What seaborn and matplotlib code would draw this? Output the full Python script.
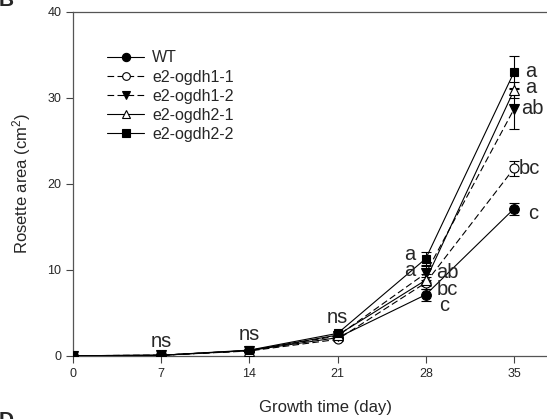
import matplotlib
matplotlib.use("Agg")
import matplotlib.pyplot as plt
import seaborn as sns
import pandas as pd
import numpy as np

days = [0, 7, 14, 21, 28, 35]
genotypes = ["WT", "e2-ogdh1-1", "e2-ogdh1-2", "e2-ogdh2-1", "e2-ogdh2-2"]
wt = [0.0, 0.05, 0.6, 2.1, 7.1, 17.1]
ogdh1_1 = [0.0, 0.05, 0.55, 1.9, 8.5, 21.8]
ogdh1_2 = [0.0, 0.05, 0.6, 2.3, 9.6, 28.7]
ogdh2_1 = [0.0, 0.05, 0.6, 2.4, 8.8, 30.9]
ogdh2_2 = [0.0, 0.05, 0.65, 2.6, 11.3, 33.0]
wt_err = [0.0, 0.02, 0.1, 0.2, 0.7, 0.7]
ogdh1_1_err = [0.0, 0.02, 0.1, 0.2, 0.7, 0.9]
ogdh1_2_err = [0.0, 0.02, 0.1, 0.2, 0.8, 2.3]
ogdh2_1_err = [0.0, 0.02, 0.1, 0.2, 0.7, 0.9]
ogdh2_2_err = [0.0, 0.02, 0.1, 0.2, 0.8, 1.9]

sig_days = [7, 14, 21]
sig_labels = ["ns", "ns", "ns"]
letters28 = ["a", "a", "ab", "bc", "c"]
letters35 = ["a", "a", "ab", "bc", "c"]

values = [wt, ogdh1_1, ogdh1_2, ogdh2_1, ogdh2_2]
errors = [wt_err, ogdh1_1_err, ogdh1_2_err, ogdh2_1_err, ogdh2_2_err]

rows = []
for g, v, e in zip(genotypes, values, errors):
    for d, y, s in zip(days, v, e):
        rows.append({"day": d, "area": y, "err": s, "genotype": g})
df = pd.DataFrame(rows)

sns.set_theme(style="ticks")
plt.rcParams["font.family"] = ["Liberation Sans", "DejaVu Sans"]
plt.rcParams["mathtext.default"] = "regular"

W, H = 547, 419
fig = plt.figure(figsize=(W / 100, H / 100), dpi=100)
ax = fig.add_axes([73 / W, 63.3 / H, 504 / W, 343.7 / H])

markers = {"WT": "o", "e2-ogdh1-1": "o", "e2-ogdh1-2": "v", "e2-ogdh2-1": "^", "e2-ogdh2-2": "s"}
msize = {"WT": 7, "e2-ogdh1-1": 6.5, "e2-ogdh1-2": 7, "e2-ogdh2-1": 6.5, "e2-ogdh2-2": 6.3}
mfc = {"WT": "black", "e2-ogdh1-1": "white", "e2-ogdh1-2": "black", "e2-ogdh2-1": "white", "e2-ogdh2-2": "black"}
ls = {"WT": "-", "e2-ogdh1-1": (0, (6, 3)), "e2-ogdh1-2": (0, (6, 3)), "e2-ogdh2-1": "-", "e2-ogdh2-2": "-"}

for g in genotypes:
    sub = df[df.genotype == g]
    ax.errorbar(sub.day, sub.area, yerr=sub.err, fmt="none", ecolor="black",
                elinewidth=0.8, capsize=3.6, capthick=0.8, zorder=2)
    sns.lineplot(data=sub, x="day", y="area", ax=ax, color="black", linewidth=0.8,
                 linestyle=ls[g], marker=markers[g], markersize=msize[g],
                 markerfacecolor=mfc[g], markeredgecolor="black", markeredgewidth=0.8,
                 label=g, zorder=3, errorbar=None)

ax.set_xlim(0, 40)
ax.set_ylim(0, 40)
ax.set_xticks(days)
ax.set_yticks([0, 10, 20, 30, 40])
ax.tick_params(axis="both", labelsize=9, length=5, width=0.8, color="#444444", direction="out")
for sp in ["left", "bottom", "top"]:
    ax.spines[sp].set_linewidth(0.9)
    ax.spines[sp].set_color("#555555")
ax.spines["right"].set_visible(False)
ax.set_xlabel("Growth time (day)", fontsize=12, labelpad=15)
ax.set_ylabel("Rosette area (cm$^2$)", fontsize=12, labelpad=10)

# significance annotations
sig_y = [1.6, 2.5, 4.5]
for d, lab, yy in zip(sig_days, sig_labels, sig_y):
    ax.text(d, yy, lab, fontsize=14.5, ha="center", va="center")

# day 28 letters
pos28 = [(27.2, 11.8, "right"), (27.2, 9.9, "right"), (28.8, 9.7, "left"),
         (28.9, 7.7, "left"), (29.05, 5.9, "left")]
for (x, y, ha), lab in zip(pos28, letters28):
    ax.text(x, y, lab, fontsize=14.5, ha=ha, va="center")

pos35 = [(35.85, 33.1), (35.85, 31.2), (35.6, 28.8), (35.35, 21.8), (36.1, 16.6)]
for (x, y), lab in zip(pos35, letters35):
    ax.text(x, y, lab, fontsize=14.5, ha="left", va="center")

leg = ax.legend(loc="upper left", bbox_to_anchor=(101 / W, 1 - 44 / H),
                bbox_transform=fig.transFigure, borderaxespad=0, frameon=False,
                fontsize=11.5, handlelength=2.3, handletextpad=0.5, labelspacing=0.26,
                markerscale=0.85)

fig.text(-0.003, 1.0, "B", fontsize=15, fontweight="bold", va="center")
fig.text(-0.003, -0.003, "D", fontsize=15, fontweight="bold", va="center")

fig.savefig("out.png", dpi=100)
